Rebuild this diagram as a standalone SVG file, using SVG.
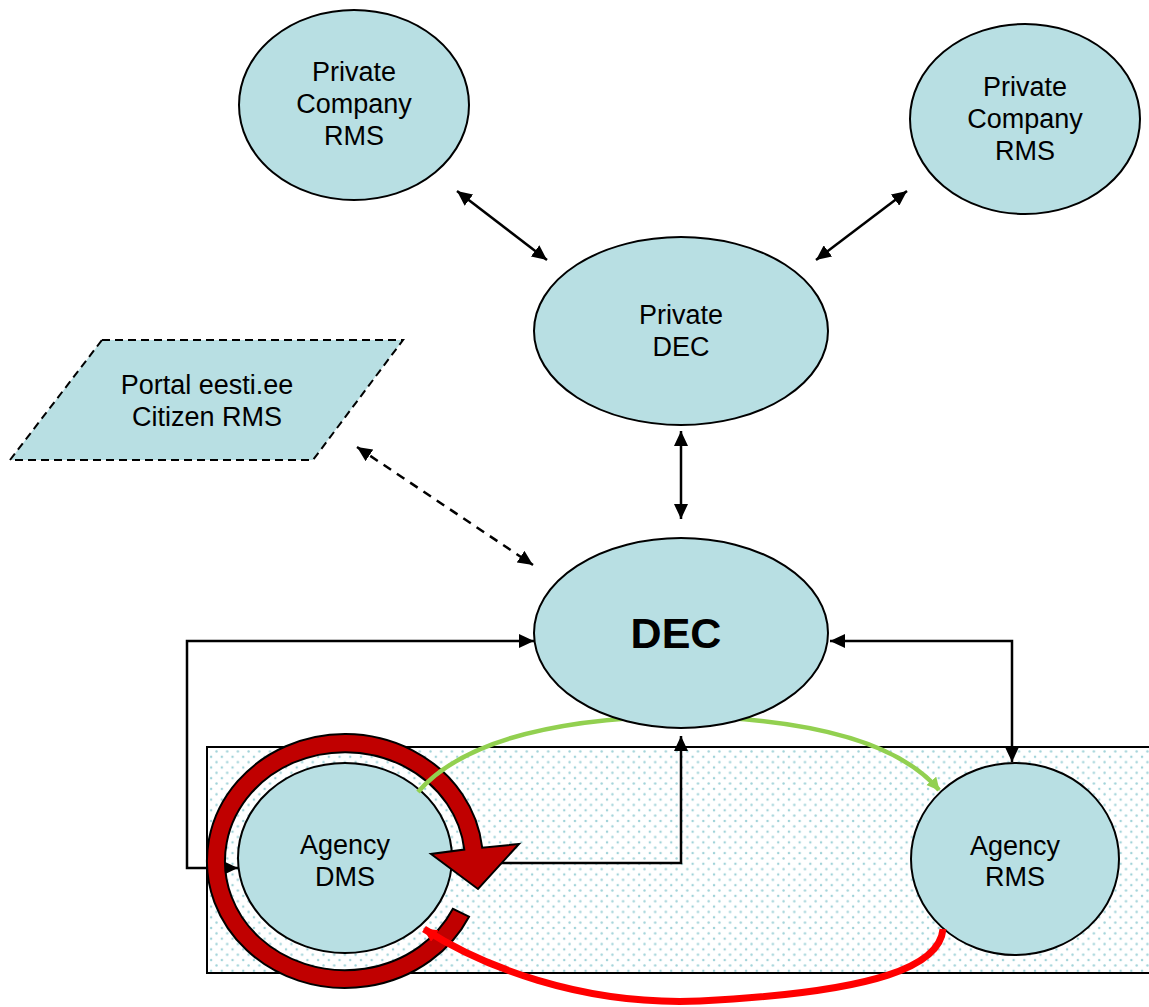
<svg xmlns="http://www.w3.org/2000/svg" width="1149" height="1007" viewBox="0 0 1149 1007">
<style>
.node{fill:#B8DFE3;stroke:#000;stroke-width:2}
.lbl{font-family:"Liberation Sans",Arial,sans-serif;font-size:27px;fill:#000;text-anchor:middle}
.big{font-family:"Liberation Sans",Arial,sans-serif;font-size:43px;font-weight:bold;fill:#000;text-anchor:middle}
.conn{fill:none;stroke:#000;stroke-width:2.5}
</style>
<defs>
<pattern id="dots" width="10.7" height="10.7" patternUnits="userSpaceOnUse">
<rect width="10.7" height="10.7" fill="#fff"/>
<circle cx="2.5" cy="2.5" r="1.2" fill="#9FD2D8"/>
<circle cx="7.85" cy="7.85" r="1.2" fill="#9FD2D8"/>
</pattern>
<marker id="ah" markerUnits="userSpaceOnUse" markerWidth="16" markerHeight="14" refX="15" refY="7" orient="auto-start-reverse">
<path d="M0,0 L15,7 L0,14 z" fill="#000"/>
</marker>
<marker id="ahg" markerUnits="userSpaceOnUse" markerWidth="14" markerHeight="14" refX="12" refY="6.5" orient="auto">
<path d="M0,0 L13,6.5 L0,13 z" fill="#92D050"/>
</marker>
<marker id="ahr" markerUnits="userSpaceOnUse" markerWidth="16" markerHeight="16" refX="13" refY="7" orient="auto">
<path d="M0,0 L14,7 L0,14 z" fill="#FF0000"/>
</marker>
</defs>

<rect id="agency-zone" x="207" y="747" width="945" height="226" fill="url(#dots)" stroke="#000" stroke-width="2"/>

<g id="connectors">
<line class="conn" x1="457" y1="191" x2="547" y2="260" marker-start="url(#ah)" marker-end="url(#ah)"/>
<line class="conn" x1="907" y1="191" x2="816" y2="260" marker-start="url(#ah)" marker-end="url(#ah)"/>
<line class="conn" x1="681" y1="431" x2="681" y2="519" marker-start="url(#ah)" marker-end="url(#ah)"/>
<line class="conn" x1="357" y1="447" x2="533" y2="565" stroke-dasharray="9,7" marker-start="url(#ah)" marker-end="url(#ah)"/>
<polyline class="conn" points="238,868 187,868 187,641 534,641" marker-start="url(#ah)" marker-end="url(#ah)"/>
<polyline class="conn" points="830,641 1012,641 1012,762" marker-start="url(#ah)" marker-end="url(#ah)"/>
<polyline class="conn" points="452,863 681,863 681,736" marker-end="url(#ah)"/>
</g>

<g id="agency-dms">
<ellipse class="node" cx="345" cy="858" rx="107" ry="95"/>
<text class="lbl" x="345" y="854">Agency</text>
<text class="lbl" x="345" y="886">DMS</text>
</g>

<g id="agency-rms">
<ellipse class="node" cx="1015" cy="859" rx="104" ry="96"/>
<text class="lbl" x="1015" y="855">Agency</text>
<text class="lbl" x="1015" y="886">RMS</text>
</g>

<g id="cycle-arrow">
<path d="M469.0 916.7 A138 127 0 1 1 482.2 847.7 L519 844 L478 889 L431 854 L464.3 849.6 A120 109 0 1 0 452.9 908.8 Z" fill="#C00000" stroke="#000" stroke-width="2" stroke-linejoin="miter"/>
</g>

<g id="flow-connectors">
<path d="M418 792 Q480 720 680 716 Q880 720 939 790" fill="none" stroke="#92D050" stroke-width="4.5" marker-end="url(#ahg)"/>
<path d="M943 929 C940 965 880 992 700 1001 C580 1006 480 965 424 929" fill="none" stroke="#FF0000" stroke-width="7" marker-end="url(#ahr)"/>
</g>

<g id="private-company-rms-1">
<ellipse class="node" cx="354" cy="105" rx="115" ry="95"/>
<text class="lbl" x="354" y="81">Private</text>
<text class="lbl" x="354" y="113">Company</text>
<text class="lbl" x="354" y="145">RMS</text>
</g>

<g id="private-company-rms-2">
<ellipse class="node" cx="1025" cy="119" rx="115" ry="95"/>
<text class="lbl" x="1025" y="96">Private</text>
<text class="lbl" x="1025" y="128">Company</text>
<text class="lbl" x="1025" y="160">RMS</text>
</g>

<g id="private-dec">
<ellipse class="node" cx="681" cy="331" rx="147" ry="94"/>
<text class="lbl" x="681" y="324">Private</text>
<text class="lbl" x="681" y="356">DEC</text>
</g>

<g id="portal">
<polygon points="102,340 403,340 313,460 10,460" fill="#B8DFE3" stroke="#000" stroke-width="2" stroke-dasharray="8,5"/>
<text class="lbl" x="207" y="394">Portal eesti.ee</text>
<text class="lbl" x="207" y="426">Citizen RMS</text>
</g>

<g id="dec">
<ellipse class="node" cx="681" cy="633" rx="147" ry="95"/>
<text class="big" x="676" y="648">DEC</text>
</g>
</svg>
